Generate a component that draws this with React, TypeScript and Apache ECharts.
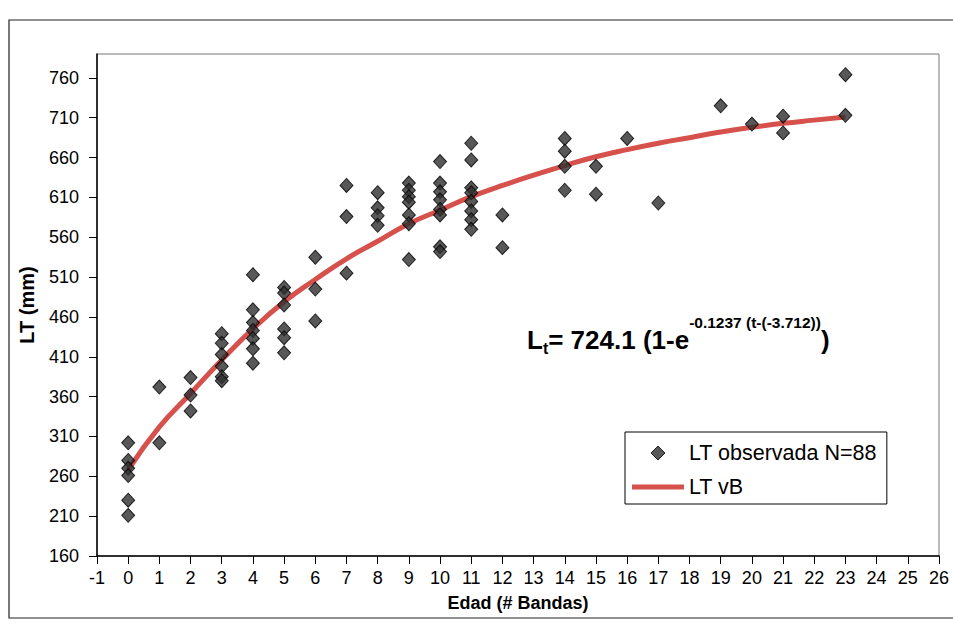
import React, { useEffect, useRef } from "react";
import * as echarts from "echarts";

const yTicks = [160, 210, 260, 310, 360, 410, 460, 510, 560, 610, 660, 710, 760];

const obsAge = [
  0, 0, 0, 0, 0, 0,
  1, 1,
  2, 2, 2,
  3, 3, 3, 3, 3, 3,
  4, 4, 4, 4, 4, 4, 4,
  5, 5, 5, 5, 5, 5,
  6, 6, 6,
  7, 7, 7,
  8, 8, 8, 8,
  9, 9, 9, 9, 9, 9, 9,
  10, 10, 10, 10, 10, 10, 10, 10,
  11, 11, 11, 11, 11, 11, 11, 11,
  12, 12,
  14, 14, 14, 14,
  15, 15,
  16,
  17,
  19,
  20,
  21, 21,
  23, 23,
];
const obsLT = [
  302, 280, 270, 261, 230, 211,
  372, 302,
  384, 362, 342,
  439, 427, 413, 398, 385, 380,
  513, 469, 453, 443, 433, 420, 402,
  497, 490, 475, 445, 434, 415,
  535, 495, 455,
  625, 586, 515,
  616, 597, 587, 575,
  628, 619, 611, 604, 588, 577, 532,
  655, 628, 617, 607, 595, 588, 548, 542,
  678, 657, 622, 616, 605, 593, 582, 570,
  588, 547,
  684, 668, 649, 619,
  649, 614,
  684,
  603,
  725,
  702,
  712, 691,
  764, 713,
];

const curveAge = [0, 1, 2, 3, 4, 5, 6, 7, 8, 9, 10, 11, 12, 13, 14, 15, 16, 17, 18, 19, 20, 21, 22, 23];
const curveLT = [268, 322, 364, 406, 445, 479, 507, 533, 555, 577, 594, 611, 625, 638, 650, 661, 670, 678, 685, 692, 698, 703, 707, 711];

const FONT = "'Liberation Sans', Arial, sans-serif";
const RED = "#d6504c";

export default function App() {
  const ref = useRef<HTMLDivElement>(null);
  useEffect(() => {
    if (!ref.current) return;
    const chart = echarts.init(ref.current, null, { renderer: "svg" });
    const scatterData = obsAge.map((a, i) => [a, obsLT[i]]);
    const lineData = curveAge.map((a, i) => [a, curveLT[i]]);
    chart.setOption({
      animation: false,
      backgroundColor: "#ffffff",
      textStyle: { fontFamily: FONT },
      grid: {
        left: 97,
        right: 14,
        top: 54,
        bottom: 70,
        show: true,
        borderColor: "#777777",
        borderWidth: 1,
      },
      xAxis: {
        type: "value",
        min: -1,
        max: 26,
        interval: 1,
        name: "Edad (# Bandas)",
        nameLocation: "middle",
        nameGap: 38,
        nameTextStyle: { fontFamily: FONT, fontSize: 18, fontWeight: "bold", color: "#000" },
        axisLine: { show: true, onZero: false, lineStyle: { color: "#000", width: 1.5 } },
        axisTick: { show: true, length: 8, lineStyle: { color: "#000", width: 1 } },
        axisLabel: { fontFamily: FONT, fontSize: 18, color: "#000", margin: 13 },
        splitLine: { show: false },
      },
      yAxis: {
        type: "value",
        min: 160,
        max: 790,
        interval: 50,
        name: "LT (mm)",
        nameLocation: "middle",
        nameGap: 60,
        nameTextStyle: { fontFamily: FONT, fontSize: 20, fontWeight: "bold", color: "#000" },
        axisLine: { show: true, onZero: false, lineStyle: { color: "#000", width: 1.5 } },
        axisTick: { show: true, length: 8, customValues: yTicks, lineStyle: { color: "#000", width: 1 } },
        axisLabel: {
          fontFamily: FONT,
          fontSize: 18,
          color: "#000",
          margin: 18,
          customValues: yTicks,
        },
        splitLine: { show: false },
      },
      legend: {
        orient: "vertical",
        left: 625,
        top: 432,
        itemWidth: 52,
        itemHeight: 14,
        itemGap: 12,
        symbolKeepAspect: true,
        padding: [10, 10, 6, 7],
        borderColor: "#000",
        borderWidth: 1,
        backgroundColor: "#fff",
        textStyle: { fontFamily: FONT, fontSize: 21.5, color: "#000" },
        data: [
          {
            name: "LT observada N=88",
            icon: "path://M7,0L14,7L7,14L0,7Z",
            itemStyle: { color: "#2e2e2e", borderColor: "#000", borderWidth: 1 },
          },
          {
            name: "LT vB",
            icon: "path://M0,0L52,0L52,5L0,5Z",
            itemStyle: { color: RED, borderWidth: 0 },
          },
        ],
      },
      graphic: [
        {
          type: "rect",
          shape: { x: 9, y: 20, width: 960, height: 598 },
          style: { fill: "none", stroke: "#222", lineWidth: 1.2 },
          silent: true,
          z: -10,
        },
        {
          type: "text",
          x: 527,
          y: 314,
          style: {
            text: "{m|L}{sub|t}{m|= 724.1 (1-e}{sup|-0.1237 (t-(-3.712))}{m|)}",
            align: "left",
            verticalAlign: "top",
            rich: {
              m: { fontFamily: FONT, fontSize: 26, fontWeight: "bold", fill: "#000", lineHeight: 52, verticalAlign: "middle" },
              sub: {
                fontFamily: FONT,
                fontSize: 16,
                fontWeight: "bold",
                fill: "#000",
                lineHeight: 16,
                verticalAlign: "middle",
                padding: [16, 0, 0, 0],
              },
              sup: { fontFamily: FONT, fontSize: 15.5, fontWeight: "bold", fill: "#000", lineHeight: 16, verticalAlign: "top" },
            },
          },
          z: 10,
        },
      ],
      series: [
        {
          name: "LT observada N=88",
          type: "scatter",
          symbol: "diamond",
          symbolSize: [13, 14],
          itemStyle: { color: "#2e2e2e", borderColor: "#000", borderWidth: 1 },
          data: scatterData,
          z: 4,
        },
        {
          name: "LT vB",
          type: "line",
          smooth: true,
          symbol: "none",
          showSymbol: false,
          lineStyle: { color: RED, width: 5 },
          itemStyle: { color: RED },
          data: lineData,
          z: 2,
        },
      ],
    });
    return () => chart.dispose();
  }, []);
  return (
    <div
      ref={ref}
      style={{ position: "absolute", left: 0, top: 0, width: 953, height: 626 }}
    />
  );
}
